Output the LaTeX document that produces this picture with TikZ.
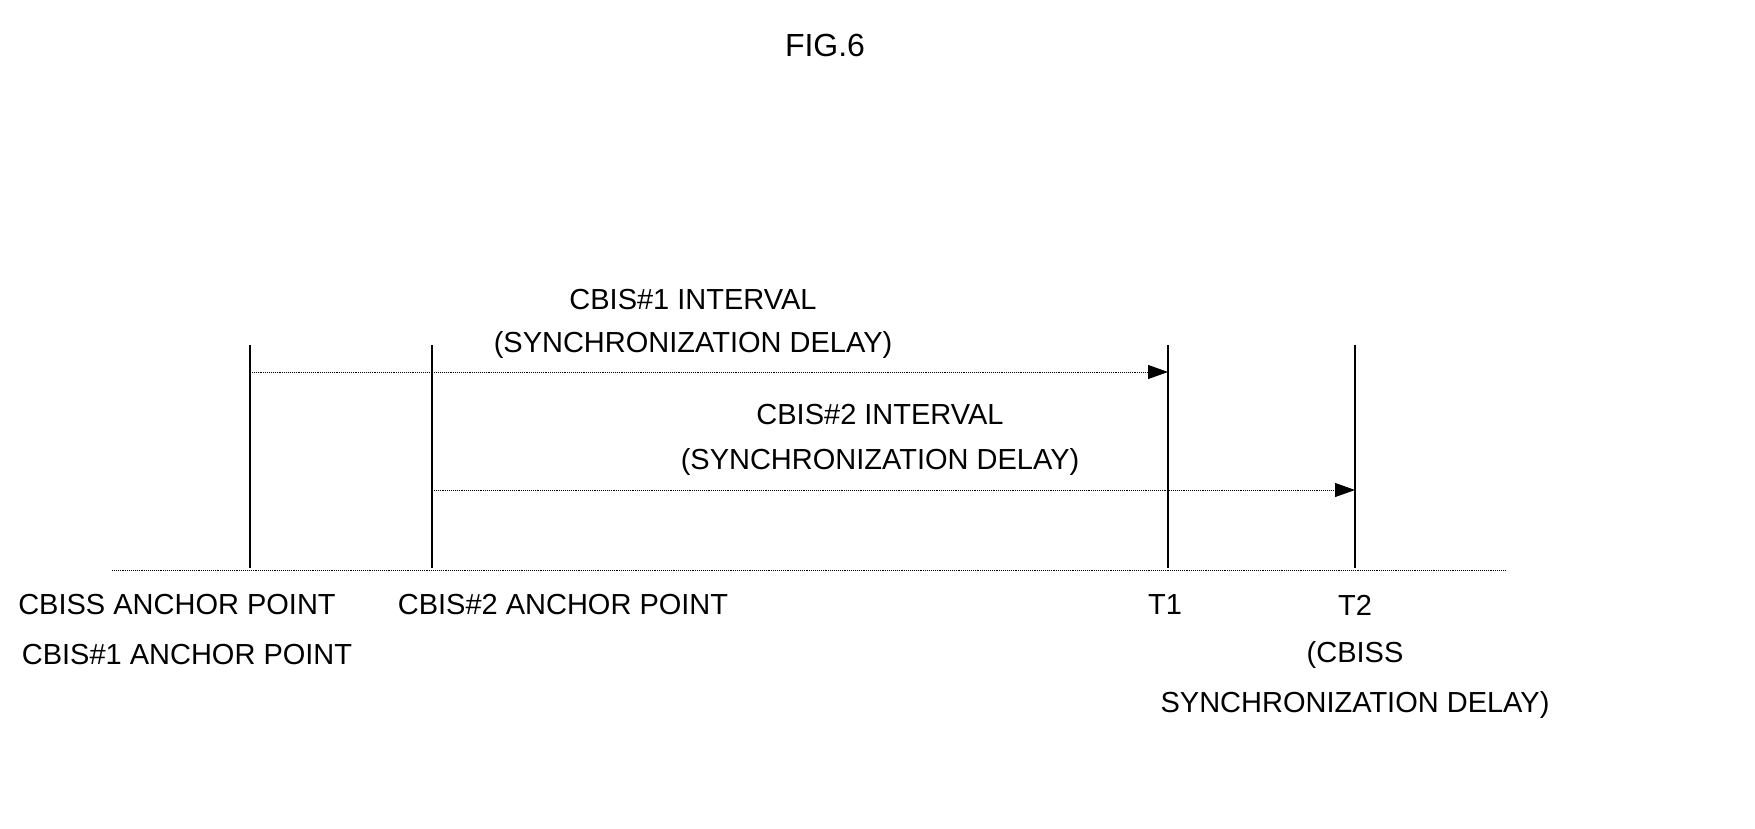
\documentclass[tikz,border=0pt]{standalone}
\usepackage{fontspec}
\setmainfont{Liberation Sans}
\usetikzlibrary{arrows.meta}
\begin{document}
\begin{tikzpicture}[x=1pt,y=-1pt,
  lbl/.style={font=\fontsize{29}{32}\selectfont,inner sep=0pt},
  vline/.style={line width=1.3pt},
  arr/.style={densely dotted,line width=0.9pt,-{Triangle[length=20pt,width=14pt]}}]
\useasboundingbox (0,0) rectangle (1755,829);
\node[lbl,font=\fontsize{32}{34}\selectfont] (title) at (825,45) {FIG.6};
\coordinate (bl) at (112,570); \coordinate (br) at (1505,570);
\draw[densely dotted,line width=0.9pt] (bl) -- (br);
\coordinate (a1) at (250,345); \coordinate (a1b) at (250,568);
\coordinate (a2) at (432,345); \coordinate (a2b) at (432,568);
\coordinate (t1) at (1168,345); \coordinate (t1b) at (1168,568);
\coordinate (t2) at (1355,345); \coordinate (t2b) at (1355,568);
\foreach \p in {a1,a2,t1,t2} \draw[vline] (\p) -- (\p b);
\coordinate (s1) at (250,372); \coordinate (e1) at (1168,372);
\coordinate (s2) at (432,490); \coordinate (e2) at (1355,490);
\draw[arr] (s1) -- (e1);
\draw[arr] (s2) -- (e2);
\node[lbl] (i1) at (693,300) {CBIS\#1 INTERVAL};
\node[lbl] (d1) at (693,345) {(SYNCHRONIZATION DELAY)};
\node[lbl] (i2) at (880,415) {CBIS\#2 INTERVAL};
\node[lbl] (d2) at (880,462) {(SYNCHRONIZATION DELAY)};
\node[lbl] (l1) at (177,605) {CBISS ANCHOR POINT};
\node[lbl] (l2) at (187,655) {CBIS\#1 ANCHOR POINT};
\node[lbl] (l3) at (563,605) {CBIS\#2 ANCHOR POINT};
\node[lbl] (l4) at (1165,605) {T1};
\node[lbl] (l5) at (1355,605) {T2};
\node[lbl] (l6) at (1355,655) {(CBISS};
\node[lbl] (l7) at (1355,705) {SYNCHRONIZATION DELAY)};
\end{tikzpicture}
\end{document}
